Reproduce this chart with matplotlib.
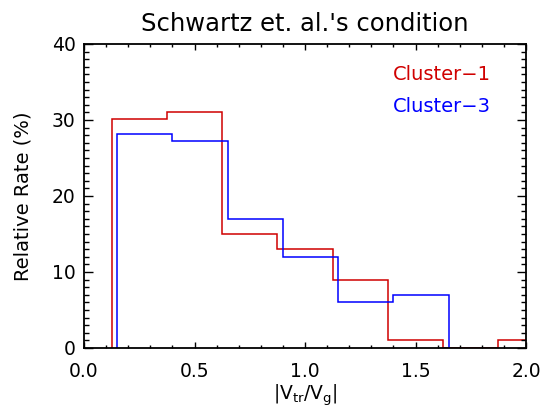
import numpy as np
import matplotlib
matplotlib.use("Agg")
from matplotlib import pyplot as plt
from matplotlib.ticker import MultipleLocator

# bin edges and relative rates (%)
edges_c1 = [0.125, 0.375, 0.625, 0.875, 1.125, 1.375, 1.625, 1.875, 2.125]
rate_c1 = [30.1, 31.1, 15.0, 13.0, 9.0, 1.0, 0.0, 1.0]

edges_c3 = [0.15, 0.40, 0.65, 0.90, 1.15, 1.40, 1.65]
rate_c3 = [28.1, 27.2, 17.0, 12.0, 6.0, 7.0]

plt.rcParams['mathtext.default'] = 'regular'
plt.rcParams['font.family'] = 'DejaVu Sans'

fig = plt.figure(figsize=(5.43, 4.13), dpi=100)
ax = fig.add_axes([0.1547, 0.1574, 0.8140, 0.7361])

ax.stairs(rate_c1, edges_c1, baseline=0, color='#d00000', linewidth=1.1)
ax.stairs(rate_c3, edges_c3, baseline=0, color='#0000ff', linewidth=1.1)

ax.set_xlim(0, 2.0)
ax.set_ylim(0, 40)
ax.xaxis.set_major_locator(MultipleLocator(0.5))
ax.xaxis.set_minor_locator(MultipleLocator(0.1))
ax.yaxis.set_major_locator(MultipleLocator(10))
ax.yaxis.set_minor_locator(MultipleLocator(1))
ax.xaxis.set_major_formatter(matplotlib.ticker.FormatStrFormatter('%.1f'))

ax.tick_params(axis='x', which='major', direction='in', top=True, length=4, width=1, labelsize=13.5, pad=10)
ax.tick_params(axis='x', which='minor', direction='in', top=True, length=2.2, width=1)
ax.tick_params(axis='y', which='major', direction='in', right=True, length=6.5, width=1, labelsize=13.5, pad=6)
ax.tick_params(axis='y', which='minor', direction='in', right=True, length=3.5, width=1)
for s in ax.spines.values():
    s.set_linewidth(1.3)

ax.set_title("Schwartz et. al.'s condition", fontsize=17.5, pad=9)
ax.set_xlabel(r'$|V_{tr}/V_{g}|$', fontsize=13.5, labelpad=1)
ax.set_ylabel('Relative Rate (%)', fontsize=14, labelpad=14)

ax.text(0.699, 0.898, 'Cluster\u22121', color='#d00000', fontsize=14,
        transform=ax.transAxes, va='center', ha='left')
ax.text(0.699, 0.796, 'Cluster\u22123', color='#0000ff', fontsize=14,
        transform=ax.transAxes, va='center', ha='left')

fig.savefig('out.png', dpi=100)
